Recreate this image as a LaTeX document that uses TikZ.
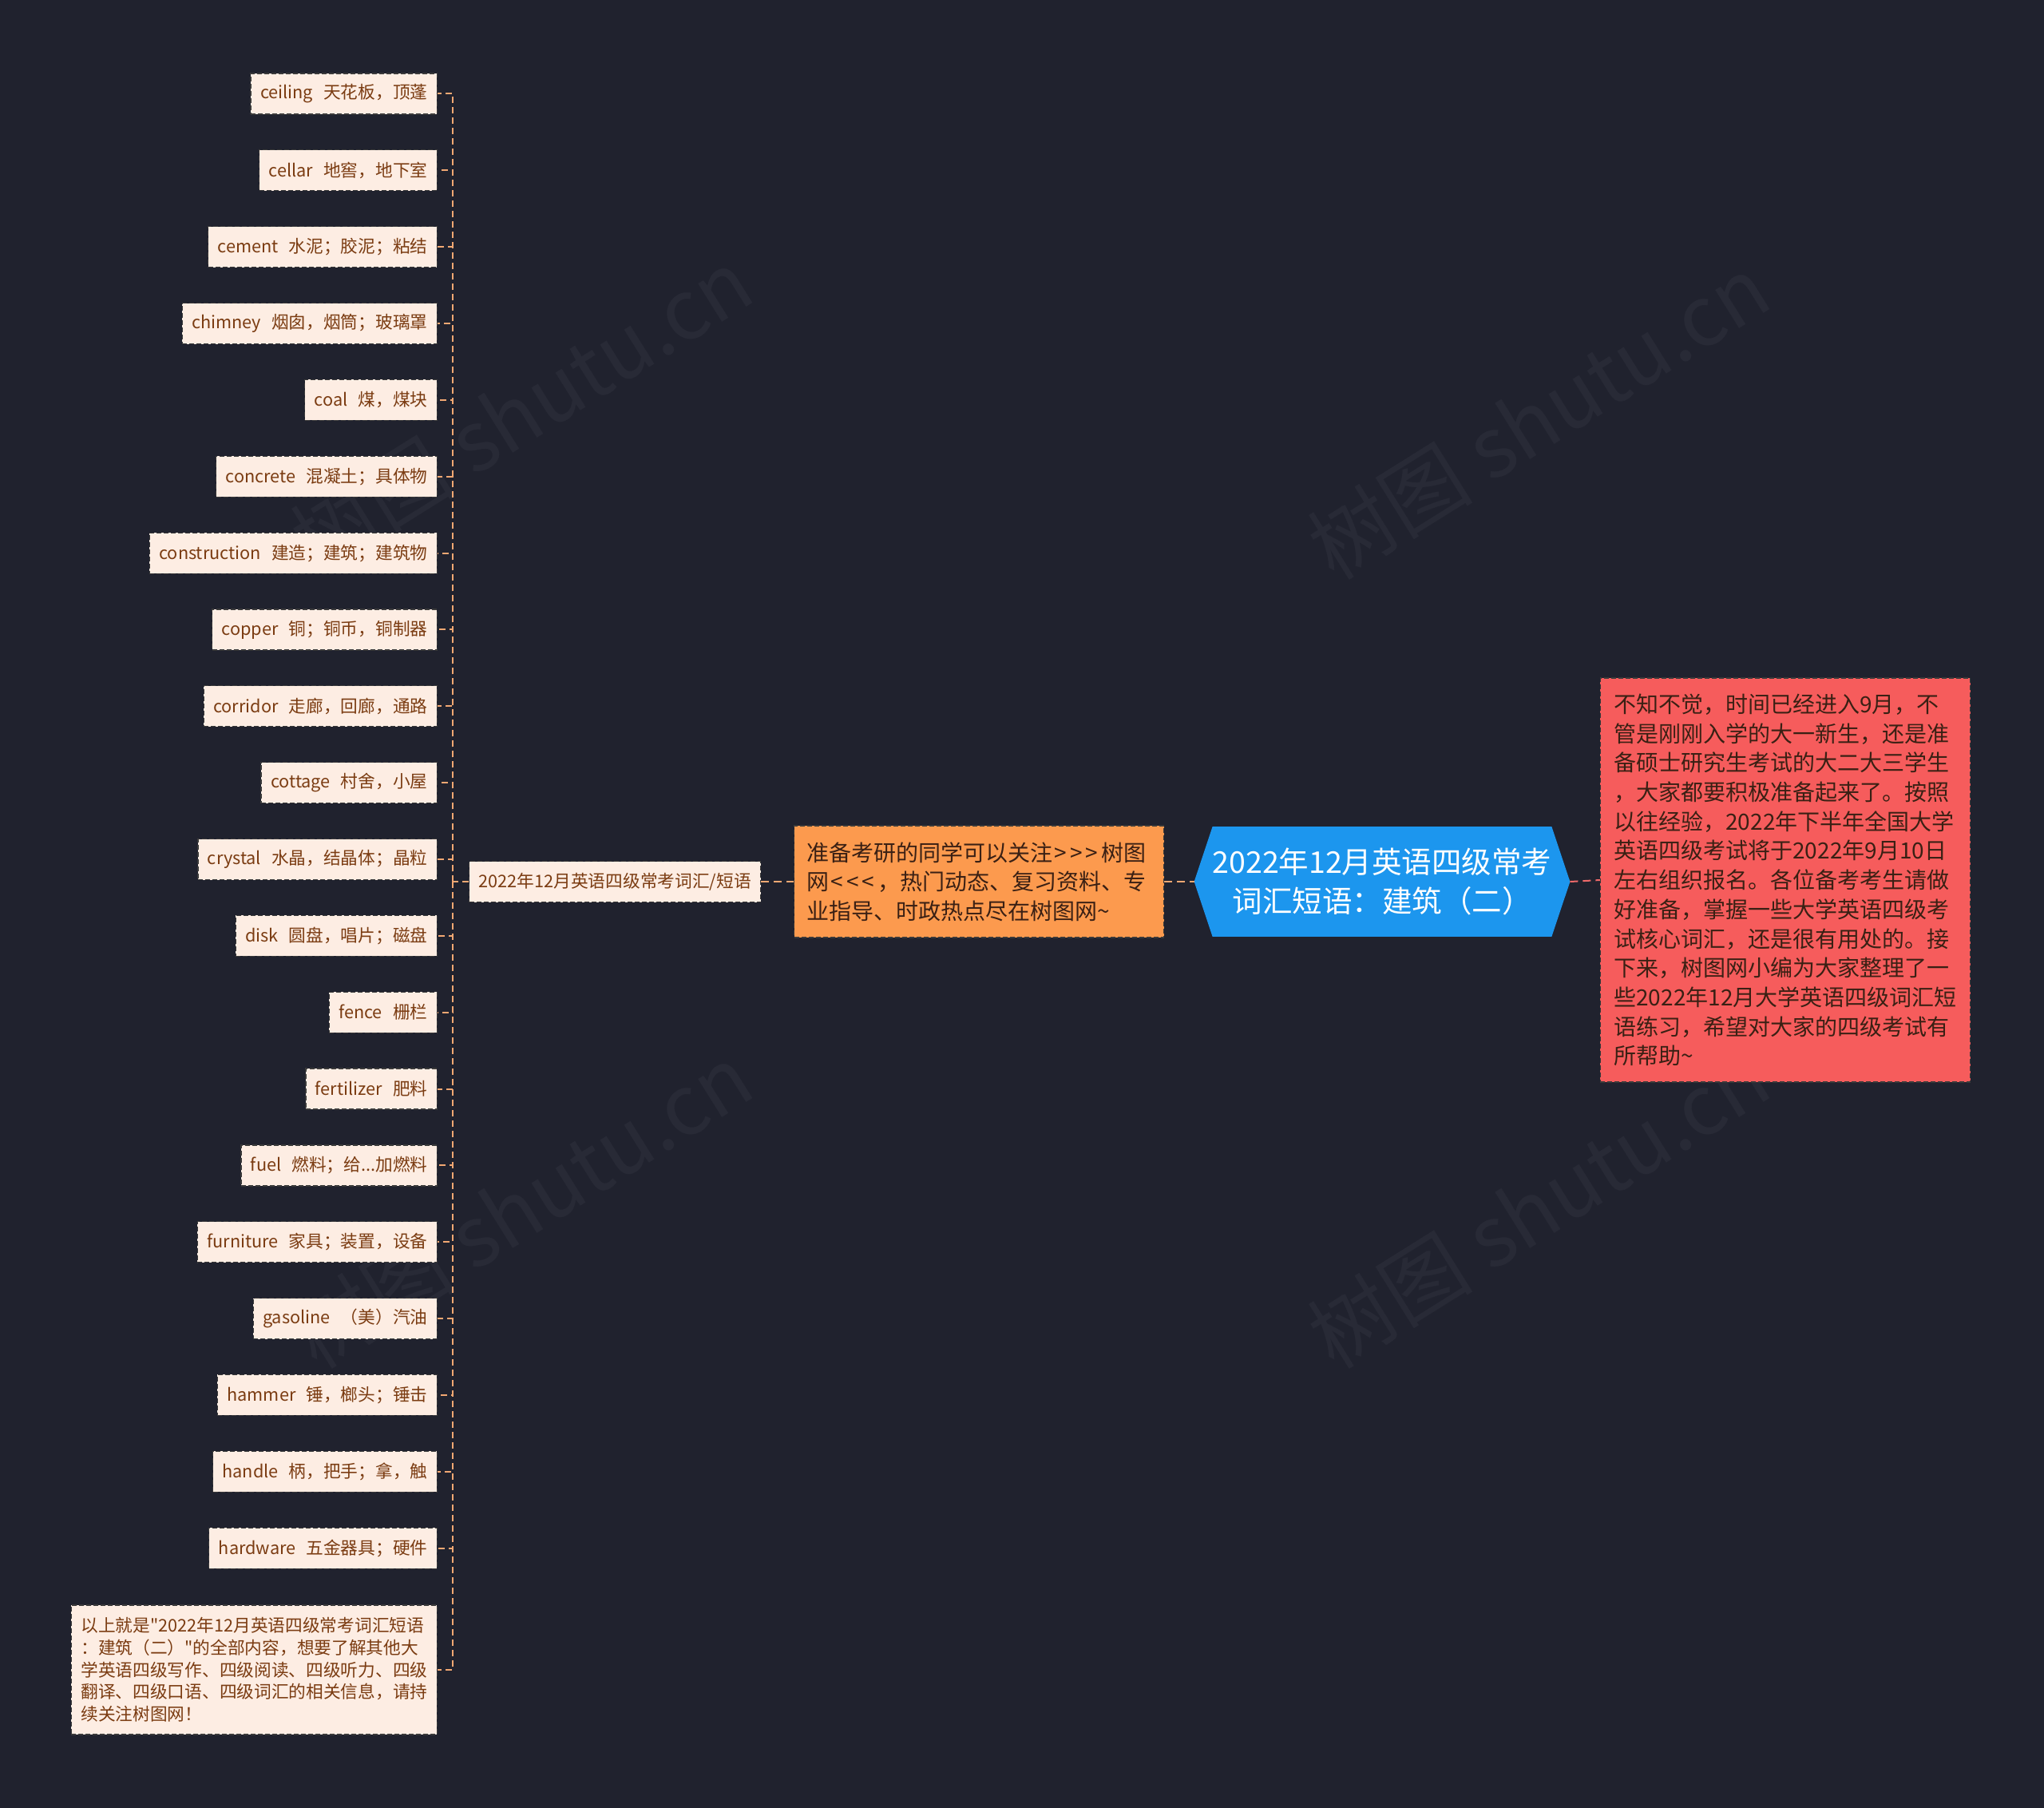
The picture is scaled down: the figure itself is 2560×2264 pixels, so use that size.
\documentclass[tikz,border=0pt]{standalone}
\usepackage{fontspec}
\setmainfont{Noto Sans CJK SC}[Ligatures=TeXOff]
\usetikzlibrary{backgrounds}
\definecolor{bgc}{HTML}{20222E}
\definecolor{leaffill}{HTML}{FDEDE3}
\definecolor{leaftext}{HTML}{7B3C12}
\definecolor{leafborder}{HTML}{3A3A3A}
\definecolor{orangefill}{HTML}{FC9A4E}
\definecolor{redfill}{HTML}{F65C5C}
\definecolor{rootblue}{HTML}{1C96EE}
\definecolor{peach}{HTML}{F2A873}
\definecolor{redline}{HTML}{F06A6A}
\definecolor{darktext}{HTML}{3A2014}
\definecolor{wmark}{HTML}{282A36}
\begin{document}
\begin{tikzpicture}[x=0.5pt,y=-0.5pt,
  leaf/.style={fill=leaffill, draw=leafborder, line width=0.6pt, dash pattern=on 3pt off 1.5pt,
    text=leaftext, inner xsep=6pt, inner ysep=0pt, minimum height=25.5pt,
    font=\fontsize{10.85pt}{13.85pt}\selectfont},
  leafline/.style={draw=peach, line width=1pt, dash pattern=on 4pt off 2.5pt},
  orangeconn/.style={draw=peach, line width=1pt, dash pattern=on 5pt off 3pt},
  redconn/.style={draw=redline, line width=1pt, dash pattern=on 5pt off 3pt},
  bigbox/.style={draw=leafborder, line width=0.6pt, dash pattern=on 3pt off 1.5pt,
    text=darktext, align=left, font=\fontsize{14pt}{18.35pt}\selectfont},
  wm/.style={text=wmark, rotate=32, font=\fontsize{52pt}{56pt}\selectfont}]
\begin{pgfonlayer}{background}
\fill[bgc] (0,0) rectangle (2560,2264);
\end{pgfonlayer}
\useasboundingbox (0,0) rectangle (2560,2264);

% watermarks
\node[wm] (wm1) at (653,514) {树图 shutu.cn};
\node[wm] (wm2) at (1927,522) {树图 shutu.cn};
\node[wm] (wm3) at (653,1510) {树图 shutu.cn};
\node[wm] (wm4) at (1927,1510) {树图 shutu.cn};

% root
\node[text=white, align=center, minimum width=235pt, minimum height=68.5pt, inner sep=0pt,
  font=\fontsize{18.75pt}{24.5pt}\selectfont] (root) at (1731,1104)
  {2022年12月英语四级常考\\词汇短语：建筑（二）};
\begin{pgfonlayer}{background}
\fill[rootblue] ([xshift=11.5pt]root.north west) -- ([xshift=-11.5pt]root.north east) -- (root.east)
  -- ([xshift=-11.5pt]root.south east) -- ([xshift=11.5pt]root.south west) -- (root.west) -- cycle;
\end{pgfonlayer}

% right red box
\node[bigbox, fill=redfill, minimum width=231pt, minimum height=253pt, inner xsep=8.5pt] (red) at (2236,1102)
  {不知不觉，时间已经进入9月，不\\管是刚刚入学的大一新生，还是准\\备硕士研究生考试的大二大三学生\\，大家都要积极准备起来了。按照\\以往经验，2022年下半年全国大学\\英语四级考试将于2022年9月10日\\左右组织报名。各位备考考生请做\\好准备，掌握一些大学英语四级考\\试核心词汇，还是很有用处的。接\\下来，树图网小编为大家整理了一\\些2022年12月大学英语四级词汇短\\语练习，希望对大家的四级考试有\\所帮助\textasciitilde};

% orange box
\node[bigbox, fill=orangefill, anchor=west, minimum height=70pt, inner xsep=8pt, text width=215.5pt] (orange) at (994,1104)
  {准备考研的同学可以关注\kern1pt>\kern2pt>\kern2pt>\kern2pt树图\\网\kern1pt<\kern2pt<\kern2pt<\kern2pt，热门动态、复习资料、专\\业指导、时政热点尽在树图网\textasciitilde};

% hub
\node[leaf, anchor=west] (hub) at (587,1104) {2022年12月英语四级常考词汇/短语};
\coordinate (trunk) at (567,1104);

\draw[redconn] (root.east) -- (red.west);
\draw[orangeconn] (orange.east) -- (root.west);
\draw[orangeconn] (hub.east) -- (orange.west);
\draw[leafline] (hub.west) -- (trunk);

\foreach \i/\w/\c in {1/ceiling/天花板，顶蓬, 2/cellar/地窖，地下室, 3/cement/水泥；胶泥；粘结,
  4/chimney/烟囱，烟筒；玻璃罩, 5/coal/煤，煤块, 6/concrete/混凝土；具体物,
  7/construction/建造；建筑；建筑物, 8/copper/铜；铜币，铜制器, 9/corridor/走廊，回廊，通路,
  10/cottage/村舍，小屋, 11/crystal/水晶，结晶体；晶粒, 12/disk/圆盘，唱片；磁盘,
  13/fence/栅栏, 14/fertilizer/肥料, 15/fuel/燃料；给{.}{.}{.}加燃料, 16/furniture/家具；装置，设备,
  17/gasoline/（美）汽油, 18/hammer/锤，榔头；锤击, 19/handle/柄，把手；拿，触,
  20/hardware/五金器具；硬件} {
  \node[leaf, anchor=east] (leaf\i) at (548, {117.5+95.85*(\i-1)}) {\w\hspace{0.6em}\c};
  \draw[leafline] (trunk) |- (leaf\i.east);
}

\node[leaf, anchor=east, align=left, minimum height=81pt, inner ysep=4pt] (final) at (548,2091)
  {以上就是"2022年12月英语四级常考词汇短语\\：建筑（二）"的全部内容，想要了解其他大\\学英语四级写作、四级阅读、四级听力、四级\\翻译、四级口语、四级词汇的相关信息，请持\\续关注树图网！};
\draw[leafline] (trunk) |- (final.east);
\end{tikzpicture}
\end{document}
